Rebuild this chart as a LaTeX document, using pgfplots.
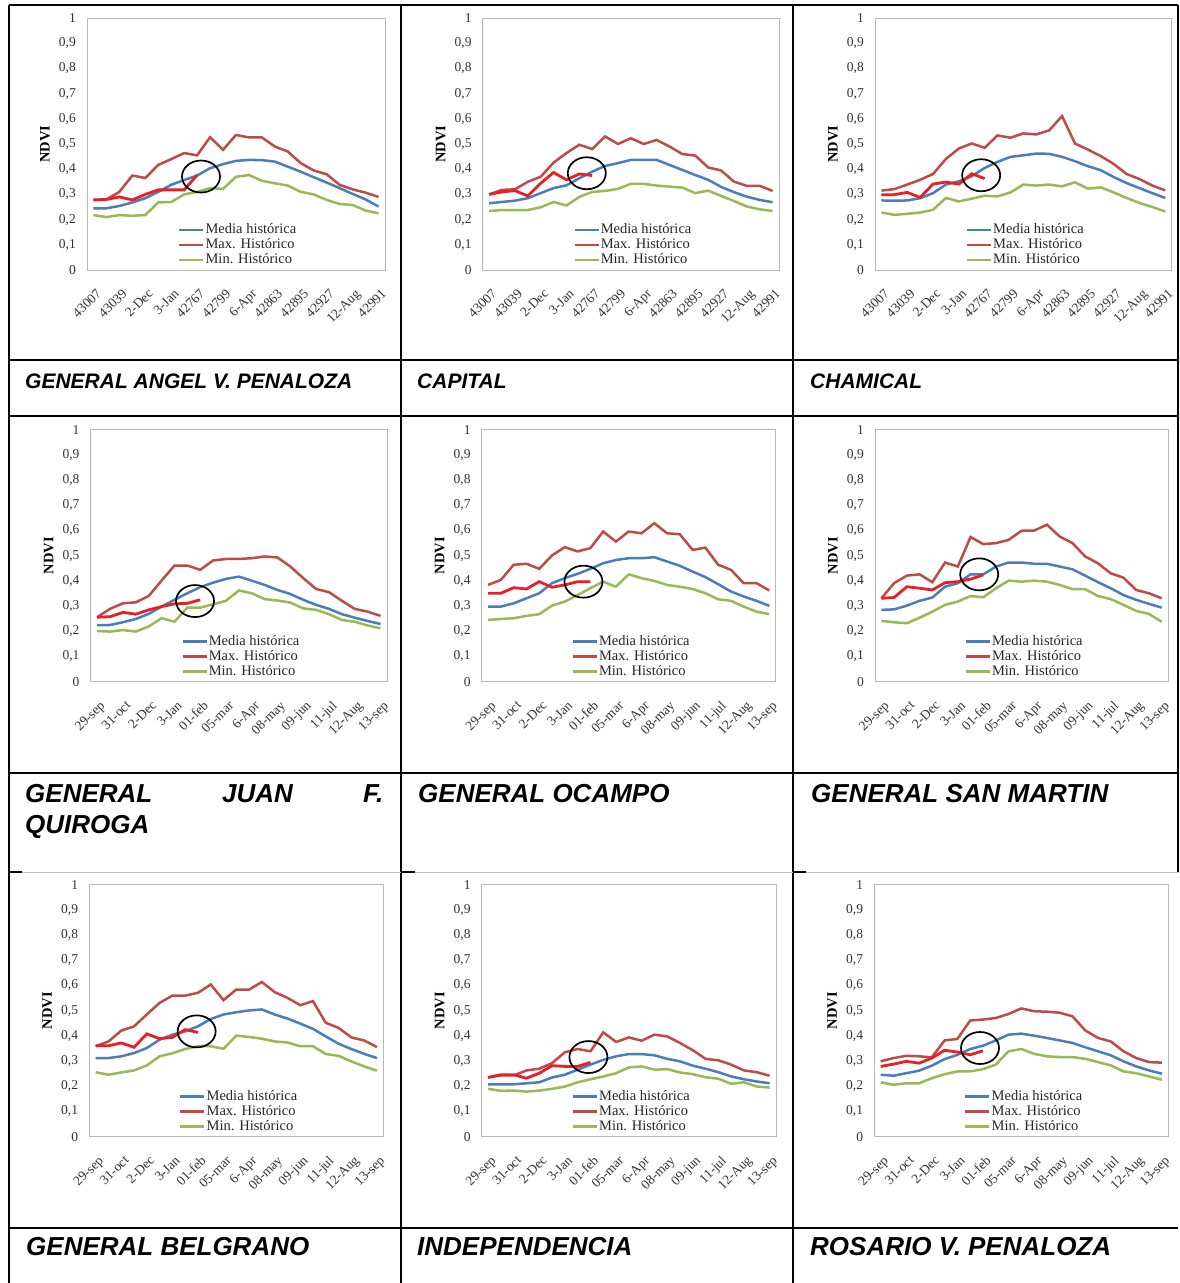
\documentclass[border=0pt]{standalone}
\usepackage{pgfplots}
\pgfplotsset{compat=1.18}
\usepackage{pgfplotstable}
\usepackage{fontspec}
\setmainfont{Liberation Serif}
\newfontfamily\lab{Liberation Sans}
\definecolor{medc}{RGB}{74,126,187}
\definecolor{maxc}{RGB}{190,75,72}
\definecolor{minc}{RGB}{152,185,84}
\definecolor{curc}{RGB}{235,30,35}

\pgfplotstableread{
i med max min cur
0 .245 .278 .218 .278
1 .245 .280 .210 .280
2 .254 .310 .218 .290
3 .268 .375 .215 .278
4 .285 .365 .218 .300
5 .310 .417 .268 .318
6 .338 .440 .270 .318
7 .357 .464 .300 .318
8 .375 .455 .310 .377
9 .404 .527 .325 nan
10 .420 .477 .322 nan
11 .433 .536 .370 nan
12 .437 .526 .377 nan
13 .436 .526 .354 nan
14 .430 .490 .344 nan
15 .410 .470 .335 nan
16 .390 .424 .310 nan
17 .368 .395 .300 nan
18 .347 .380 .278 nan
19 .325 .338 .262 nan
20 .302 .320 .258 nan
21 .280 .307 .236 nan
22 .252 .290 .225 nan
}\tA
\pgfplotstableread{
i med max min cur
0 .265 .300 .234 .300
1 .270 .318 .238 .310
2 .275 .320 .238 .315
3 .285 .350 .238 .294
4 .305 .370 .249 .344
5 .325 .426 .270 .387
6 .336 .464 .256 .358
7 .364 .497 .290 .381
8 .390 .480 .310 .375
9 .413 .530 .314 nan
10 .424 .500 .322 nan
11 .437 .523 .342 nan
12 .437 .500 .342 nan
13 .437 .516 .335 nan
14 .417 .490 .331 nan
15 .397 .460 .327 nan
16 .377 .454 .305 nan
17 .358 .407 .315 nan
18 .330 .395 .294 nan
19 .309 .351 .274 nan
20 .291 .334 .252 nan
21 .278 .334 .241 nan
22 .269 .314 .234 nan
}\tB
\pgfplotstableread{
i med max min cur
0 .276 .315 .228 .299
1 .275 .321 .219 .299
2 .276 .339 .223 .308
3 .285 .358 .228 .288
4 .305 .381 .239 .341
5 .339 .441 .286 .349
6 .352 .482 .272 .341
7 .372 .502 .283 .382
8 .405 .485 .295 .363
9 .429 .534 .292 nan
10 .449 .525 .308 nan
11 .455 .542 .339 nan
12 .462 .538 .335 nan
13 .461 .554 .339 nan
14 .449 .611 .332 nan
15 .432 .502 .348 nan
16 .412 .478 .323 nan
17 .396 .452 .328 nan
18 .369 .421 .308 nan
19 .345 .381 .286 nan
20 .325 .361 .266 nan
21 .305 .335 .250 nan
22 .286 .316 .232 nan
}\tC
\pgfplotstableread{
i med max min cur
0 .225 .256 .201 .256
1 .225 .289 .199 .258
2 .236 .311 .205 .275
3 .249 .315 .199 .268
4 .269 .340 .219 .285
5 .298 .401 .252 .298
6 .325 .461 .238 .309
7 .351 .461 .294 .311
8 .375 .444 .294 .325
9 .393 .481 .307 nan
10 .408 .487 .321 nan
11 .417 .487 .362 nan
12 .401 .490 .351 nan
13 .384 .497 .328 nan
14 .364 .493 .322 nan
15 .348 .457 .314 nan
16 .325 .411 .291 nan
17 .305 .368 .285 nan
18 .289 .355 .268 nan
19 .268 .321 .245 nan
20 .254 .289 .238 nan
21 .241 .278 .223 nan
22 .229 .261 .212 nan
}\tD
\pgfplotstableread{
i med max min cur
0 .298 .384 .245 .351
1 .298 .404 .249 .351
2 .311 .464 .252 .373
3 .331 .468 .261 .368
4 .351 .448 .268 .397
5 .391 .501 .302 .375
6 .411 .534 .318 .384
7 .428 .517 .344 .397
8 .448 .530 .371 .397
9 .470 .596 .397 nan
10 .483 .556 .377 nan
11 .490 .596 .426 nan
12 .490 .589 .411 nan
13 .494 .629 .400 nan
14 .477 .589 .384 nan
15 .460 .585 .377 nan
16 .437 .523 .368 nan
17 .415 .532 .351 nan
18 .387 .464 .327 nan
19 .358 .444 .321 nan
20 .338 .391 .298 nan
21 .321 .391 .278 nan
22 .301 .362 .268 nan
}\tE
\pgfplotstableread{
i med max min cur
0 .285 .331 .241 .331
1 .287 .391 .236 .334
2 .302 .421 .232 .377
3 .321 .426 .254 .371
4 .334 .395 .278 .364
5 .377 .473 .305 .393
6 .391 .457 .318 .397
7 .426 .574 .340 .407
8 .426 .546 .335 .424
9 .457 .550 .371 nan
10 .473 .563 .401 nan
11 .473 .599 .397 nan
12 .468 .600 .401 nan
13 .468 .623 .397 nan
14 .457 .576 .384 nan
15 .446 .550 .367 nan
16 .421 .497 .367 nan
17 .395 .470 .340 nan
18 .371 .430 .328 nan
19 .344 .413 .305 nan
20 .325 .364 .281 nan
21 .309 .351 .269 nan
22 .294 .331 .238 nan
}\tF
\pgfplotstableread{
i med max min cur
0 .312 .359 .256 .361
1 .312 .378 .246 .361
2 .319 .421 .255 .372
3 .332 .438 .263 .355
4 .352 .485 .283 .408
5 .385 .531 .319 .389
6 .405 .560 .331 .394
7 .418 .560 .348 .425
8 .438 .571 .359 .414
9 .467 .604 .359 nan
10 .485 .542 .349 nan
11 .494 .584 .401 nan
12 .501 .584 .396 nan
13 .505 .614 .389 nan
14 .485 .574 .378 nan
15 .469 .551 .374 nan
16 .449 .522 .359 nan
17 .428 .538 .359 nan
18 .398 .452 .328 nan
19 .369 .432 .321 nan
20 .348 .394 .299 nan
21 .329 .382 .279 nan
22 .312 .356 .262 nan
}\tG
\pgfplotstableread{
i med max min cur
0 .208 .236 .190 .235
1 .208 .243 .182 .246
2 .208 .243 .183 .246
3 .212 .263 .179 .232
4 .216 .270 .183 .252
5 .235 .292 .190 .282
6 .246 .335 .199 .279
7 .266 .348 .216 .279
8 .286 .339 .228 .295
9 .305 .414 .239 nan
10 .319 .376 .252 nan
11 .328 .394 .275 nan
12 .328 .381 .279 nan
13 .323 .405 .266 nan
14 .309 .398 .268 nan
15 .299 .372 .255 nan
16 .282 .343 .248 nan
17 .270 .309 .236 nan
18 .256 .303 .230 nan
19 .239 .286 .210 nan
20 .228 .263 .216 nan
21 .219 .256 .199 nan
22 .212 .242 .195 nan
}\tH
\pgfplotstableread{
i med max min cur
0 .246 .299 .216 .279
1 .242 .312 .206 .288
2 .252 .321 .212 .299
3 .262 .319 .212 .292
4 .282 .315 .232 .312
5 .308 .382 .248 .343
6 .325 .388 .259 .336
7 .348 .461 .259 .325
8 .361 .465 .268 .341
9 .382 .471 .286 nan
10 .405 .487 .339 nan
11 .409 .509 .348 nan
12 .401 .498 .329 nan
13 .392 .496 .319 nan
14 .382 .492 .316 nan
15 .372 .478 .316 nan
16 .355 .422 .309 nan
17 .339 .392 .296 nan
18 .323 .378 .283 nan
19 .299 .339 .259 nan
20 .279 .312 .252 nan
21 .263 .296 .239 nan
22 .250 .294 .226 nan
}\tI

\pgfplotsset{
  ndvi/.style={
    scale only axis, height=252pt,
    xmin=-0.5, xmax=22.5, ymin=0, ymax=1,
    ytick={0,0.1,0.2,0.3,0.4,0.5,0.6,0.7,0.8,0.9,1},
    xtick={0,2,...,22},
    major tick length=0pt,
    axis line style={draw=black!28, line width=0.9pt},
    /pgf/number format/use comma,
    /pgf/number format/assume math mode=true,
    tick label style={font=\fontsize{13.5}{14}\selectfont, text=black!80},
    yticklabel style={inner sep=0pt, xshift=-11pt},
    xticklabel style={inner sep=0pt, xshift=2pt, yshift=-18pt, rotate=45, anchor=north east},
    ylabel={NDVI},
    ylabel style={font=\fontsize{14.5}{15}\selectfont\bfseries, at={([xshift=-42pt]axis description cs:0,0.5)}, anchor=center},
    legend style={at={(axis description cs:0.305,0.19)}, anchor=north west, draw=none, fill=none,
      font=\fontsize{14.5}{15}\selectfont, text=black!85, row sep=0pt, inner sep=0pt,
      nodes={inner sep=1pt, text height=10pt, text depth=3pt}},
    legend cell align=left,
    legend image code/.code={\draw[##1] (0pt,0pt) -- (24pt,0pt);},
  },
  rowA/.style={xticklabels={43007,43039,2-Dec,3-Jan,42767,42799,6-Apr,42863,42895,42927,12-Aug,42991}},
  rowB/.style={xticklabels={29-sep,31-oct,2-Dec,3-Jan,01-feb,05-mar,6-Apr,08-may,09-jun,11-jul,12-Aug,13-sep}},
}

\newcommand{\ndvichart}[7]{%
\begin{axis}[ndvi, #5, at={(#1pt,-#2pt)}, anchor=south west, width=#3pt]
  \addplot[medc, line width=2.5pt] table[x=i,y=med]{#4};
  \addlegendentry{Media histórica}
  \addplot[maxc, line width=2.5pt] table[x=i,y=max]{#4};
  \addlegendentry{Max. Histórico}
  \addplot[minc, line width=2.5pt] table[x=i,y=min]{#4};
  \addlegendentry{Min. Histórico}
  \addplot[curc, line width=2.8pt, forget plot] table[x=i,y=cur]{#4};
  \draw[black, line width=1.7pt] (axis cs:#6,#7) ellipse [x radius=19pt, y radius=16pt];
\end{axis}}

\begin{document}
\begin{tikzpicture}
\useasboundingbox (0pt,0pt) rectangle (1179pt,-1283pt);
\fill[white] (0pt,0pt) rectangle (1179pt,-1283pt);

% table frame
\begin{scope}[line width=1.1pt, black]
  \draw (9pt,-5pt) -- (1178pt,-5pt);
  \draw (9pt,-360pt) -- (1178pt,-360pt);
  \draw (9pt,-416pt) -- (1178pt,-416pt);
  \draw (9pt,-773pt) -- (1178pt,-773pt);
  \draw (9pt,-1228pt) -- (1178pt,-1228pt);
  \draw (9pt,-5pt) -- (9pt,-1283pt);
  \draw (401pt,-5pt) -- (401pt,-1283pt);
  \draw (793pt,-5pt) -- (793pt,-1283pt);
  \draw (1178pt,-5pt) -- (1178pt,-872pt);
  \draw[black!25, line width=0.9pt] (9pt,-872pt) -- (1179pt,-872pt);
  \draw (9pt,-872pt) -- (22pt,-872pt);
  \draw (401pt,-872pt) -- (415pt,-872pt);
  \draw (793pt,-872pt) -- (806pt,-872pt);
\end{scope}

\ndvichart{87}{270}{298}{\tA}{rowA}{8.3}{0.371}
\ndvichart{482.7}{270}{296.3}{\tB}{rowA}{7.58}{0.384}
\ndvichart{875}{270}{296.7}{\tC}{rowA}{7.73}{0.376}
\ndvichart{90.7}{681.7}{296.3}{\tD}{rowB}{7.6}{0.32}
\ndvichart{481.7}{681.7}{294}{\tE}{rowB}{7.46}{0.397}
\ndvichart{875}{681.7}{293}{\tF}{rowB}{7.68}{0.426}
\ndvichart{89.3}{1136.7}{294}{\tG}{rowB}{7.9}{0.418}
\ndvichart{481.7}{1136.7}{294.3}{\tH}{rowB}{7.84}{0.316}
\ndvichart{874.3}{1136.7}{294}{\tI}{rowB}{7.77}{0.352}

% labels
\begin{scope}[every node/.style={anchor=base west, inner sep=0pt}]
  \node[font=\fontsize{21}{24}\lab\bfseries\itshape] at (25pt,-388pt) {GENERAL ANGEL V. PENALOZA};
  \node[font=\fontsize{21}{24}\lab\bfseries\itshape] at (417pt,-388pt) {CAPITAL};
  \node[font=\fontsize{21}{24}\lab\bfseries\itshape] at (810pt,-388pt) {CHAMICAL};
  \node[font=\fontsize{26}{30}\lab\bfseries\itshape] at (25pt,-802pt) {GENERAL};
  \node[font=\fontsize{26}{30}\lab\bfseries\itshape] at (222pt,-802pt) {JUAN};
  \node[font=\fontsize{26}{30}\lab\bfseries\itshape] at (363pt,-802pt) {F.};
  \node[font=\fontsize{26}{30}\lab\bfseries\itshape] at (25pt,-833pt) {QUIROGA};
  \node[font=\fontsize{26}{30}\lab\bfseries\itshape] at (418pt,-802pt) {GENERAL OCAMPO};
  \node[font=\fontsize{26}{30}\lab\bfseries\itshape] at (811pt,-802pt) {GENERAL SAN MARTIN};
  \node[font=\fontsize{26}{30}\lab\bfseries\itshape] at (26pt,-1255pt) {GENERAL BELGRANO};
  \node[font=\fontsize{26}{30}\lab\bfseries\itshape] at (417pt,-1255pt) {INDEPENDENCIA};
  \node[font=\fontsize{26}{30}\lab\bfseries\itshape] at (810pt,-1255pt) {ROSARIO V. PENALOZA};
\end{scope}
\end{tikzpicture}
\end{document}
